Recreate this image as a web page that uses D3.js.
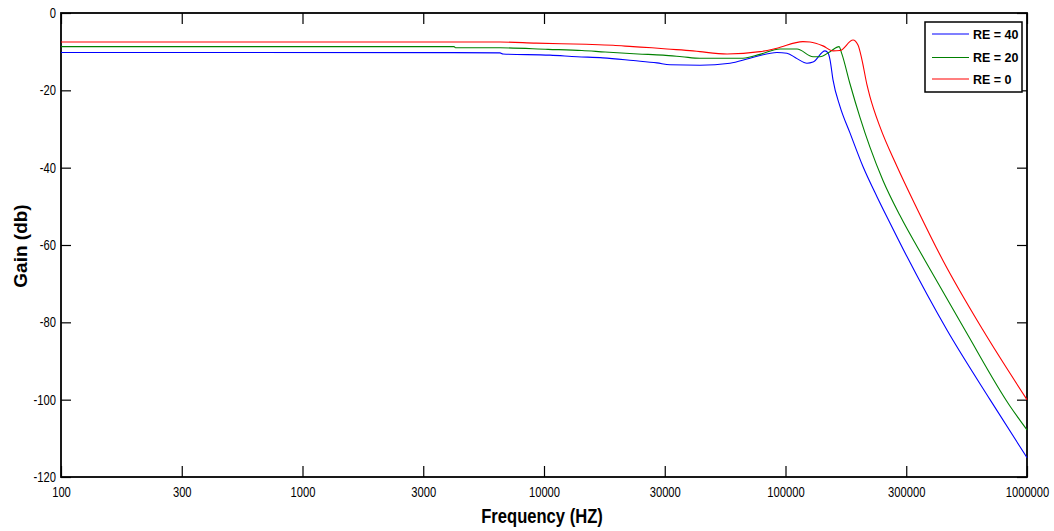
<!DOCTYPE html>
<html>
<head>
<meta charset="utf-8">
<script src="https://cdn.jsdelivr.net/npm/d3@7"></script>
<style>
  html, body { margin: 0; padding: 0; background: #fff; }
  svg { display: block; }
  text { font-family: "Liberation Sans", Arial, sans-serif; fill: #000; }
</style>
</head>
<body>
<svg id="chart" width="1054" height="531"></svg>
<script>
// Frequency response (Hz vs dB) for three values of RE
const freqRE40 = [100, 4240, 6577, 6761, 10590, 13700, 17540, 23380, 29380, 33260, 44250, 58910, 71290, 92200, 101400, 111600, 122700, 130000, 145800, 150000, 152900, 157300, 168200, 184900, 209300, 239200, 270800, 318400, 466300, 702900, 1000000];
const gainRE40 = [-10.2, -10.25, -10.3, -10.6, -10.9, -11.3, -11.6, -12.3, -12.9, -13.4, -13.5, -13.0, -11.7, -10.2, -10.4, -11.8, -13.0, -12.7, -9.8, -10.3, -12.1, -17.3, -24.2, -31.0, -39.7, -47.5, -54.3, -63.0, -82, -100, -115];

const freqRE20 = [100, 4240, 4300, 6577, 10400, 14360, 17900, 24500, 31110, 37260, 44250, 66680, 78380, 94900, 111600, 130000, 138900, 152900, 166600, 171000, 184900, 203400, 223700, 253300, 297900, 378200, 553500, 851000, 1000000];
const gainRE20 = [-8.7, -8.7, -9.0, -9.0, -9.4, -9.7, -10.1, -10.6, -10.9, -11.3, -11.7, -11.7, -10.7, -9.3, -9.3, -11.3, -11.3, -10.0, -8.7, -10.5, -18.3, -27.0, -34.7, -43.3, -52.4, -64.0, -82, -101.7, -107.8];

const freqRE0 = [100, 6577, 9268, 14930, 19320, 23380, 28000, 32300, 41380, 44250, 57260, 78380, 92200, 118100, 126300, 142900, 157300, 168200, 190400, 199600, 207300, 217500, 223700, 246000, 289600, 350500, 448700, 657000, 1000000];
const gainRE0 = [-7.5, -7.5, -7.8, -8.1, -8.35, -8.7, -9.0, -9.3, -9.8, -10.0, -10.6, -10.0, -9.1, -7.4, -7.5, -8.5, -9.8, -9.7, -7.0, -8.3, -12.1, -18.6, -21.6, -29.4, -39.7, -50.6, -64.0, -82, -100];

const seriesNames = ["RE = 40", "RE = 20", "RE = 0"];
const seriesColors = ["#0000ff", "#008000", "#ff0000"];

const xTickValues = [100, 316.23, 1000, 3162.3, 10000, 31623, 100000, 316228, 1000000];
const xTickLabels = ["100", "300", "1000", "3000", "10000", "30000", "100000", "300000", "1000000"];
const yTickValues = [0, -20, -40, -60, -80, -100, -120];

const svg = d3.select("#chart");
const W = 1054, H = 531;
const m = { left: 61, right: 1027, top: 13, bottom: 477 };

svg.append("rect").attr("width", W).attr("height", H).attr("fill", "#fff");

const x = d3.scaleLog().domain([100, 1000000]).range([m.left, m.right]);
const y = d3.scaleLinear().domain([-120, 0]).range([m.bottom, m.top]);

const tickFont = g => g.selectAll("text")
  .style("font-size", "14px")
  .attr("fill", "#000");

// bottom axis (ticks pointing into the plot)
const gx = svg.append("g").attr("transform", `translate(0,${m.bottom})`)
  .call(d3.axisBottom(x).tickValues(xTickValues)
    .tickFormat((d, i) => xTickLabels[i]).tickSize(-11).tickSizeOuter(0).tickPadding(10));
gx.call(tickFont);
gx.selectAll("text").attr("transform", "scale(0.8,1)");

// top axis
svg.append("g").attr("transform", `translate(0,${m.top})`)
  .call(d3.axisTop(x).tickValues(xTickValues).tickFormat("").tickSize(-11).tickSizeOuter(0));

// left axis
const gy = svg.append("g").attr("transform", `translate(${m.left},0)`)
  .call(d3.axisLeft(y).tickValues(yTickValues).tickFormat(d => String(d))
    .tickSize(-10).tickSizeOuter(0).tickPadding(6));
gy.call(tickFont);
gy.selectAll("text").attr("transform", "scale(0.8,1)").attr("x", -5 / 0.8);

// right axis
svg.append("g").attr("transform", `translate(${m.right},0)`)
  .call(d3.axisRight(y).tickValues(yTickValues).tickFormat("").tickSize(-10).tickSizeOuter(0));

svg.selectAll(".domain").remove();
svg.selectAll(".tick line").attr("stroke", "#000").attr("stroke-width", 1.2);

// plot box
svg.append("rect")
  .attr("x", m.left).attr("y", m.top)
  .attr("width", m.right - m.left).attr("height", m.bottom - m.top)
  .attr("fill", "none").attr("stroke", "#000").attr("stroke-width", 1.8);

// curves
const line = d3.line()
  .x(d => x(d[0]))
  .y(d => y(d[1]))
  .curve(d3.curveMonotoneX);

const series = [
  [freqRE40, gainRE40],
  [freqRE20, gainRE20],
  [freqRE0, gainRE0]
];

series.forEach((s, i) => {
  const pts = s[0].map((f, j) => [f, s[1][j]]);
  svg.append("path")
    .datum(pts)
    .attr("d", line)
    .attr("fill", "none")
    .attr("stroke", seriesColors[i])
    .attr("stroke-width", 1.1);
});

// axis titles
svg.append("text")
  .attr("x", 542).attr("y", 523)
  .attr("text-anchor", "middle")
  .style("font-size", "21px").style("font-weight", "bold")
  .attr("transform", "translate(542,0) scale(0.79,1) translate(-542,0)")
  .text("Frequency (HZ)");

svg.append("text")
  .attr("transform", "translate(27,246) rotate(-90)")
  .attr("text-anchor", "middle")
  .style("font-size", "19px").style("font-weight", "bold")
  .text("Gain (db)");

// legend
const lg = svg.append("g");
lg.append("rect")
  .attr("x", 925).attr("y", 22).attr("width", 97).attr("height", 70)
  .attr("fill", "#fff").attr("stroke", "#000").attr("stroke-width", 1.5);
const legendY = [34, 57.5, 79];
seriesNames.forEach((name, i) => {
  lg.append("line")
    .attr("x1", 932).attr("x2", 969)
    .attr("y1", legendY[i]).attr("y2", legendY[i])
    .attr("stroke", seriesColors[i]).attr("stroke-width", 1.1);
  lg.append("text")
    .attr("x", 973).attr("y", legendY[i] + 4.5)
    .style("font-size", "12.5px").style("font-weight", "bold")
    .text(name);
});
</script>
</body>
</html>
